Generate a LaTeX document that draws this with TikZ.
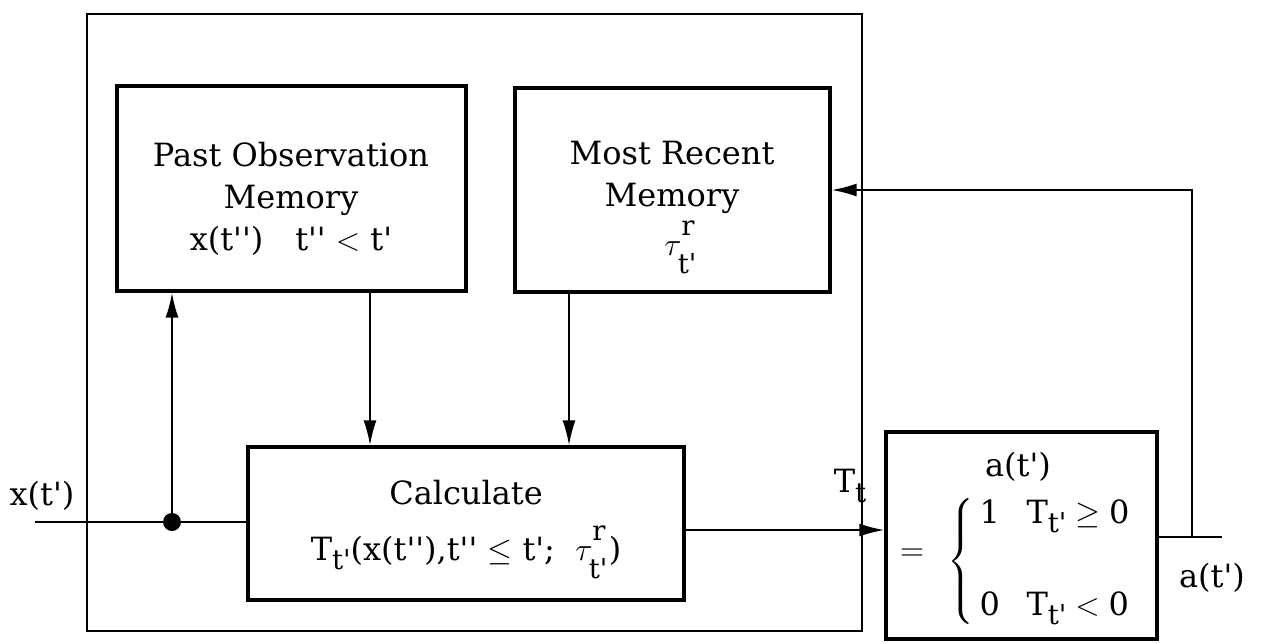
\documentclass[tikz,border=0pt]{standalone}
\usepackage{fix-cm}
\usepackage{amsmath}
\usepackage{fontspec}
\setmainfont{DejaVu Serif}
\usetikzlibrary{arrows.meta,fit}
\newcommand{\pr}{\textquotesingle}
\newcommand{\pp}{\textquotesingle\textquotesingle}
\newcommand{\lo}[1]{\raisebox{-0.55ex}{\fontsize{11}{11}\selectfont #1}}
\newcommand{\sm}[1]{\textrm{\fontsize{11}{11}\selectfont #1}}
\newcommand{\taur}{$\tau^{\raisebox{0.5ex}{\sm{r}}}_{\raisebox{-0.6ex}{\sm{t\pr}}}$}
\begin{document}
\begin{tikzpicture}[x=0.4pt,y=-0.4pt,
  every node/.style={font=\fontsize{12.8}{16.8}\selectfont},
  blockbox/.style={draw,line width=1.3pt,inner sep=0pt},
  outerbox/.style={draw,line width=0.8pt,inner sep=0pt},
  txt/.style={inner sep=0pt,align=center},
  conn/.style={line width=0.8pt},
  arr/.style={conn,-{Latex[length=10pt,width=5.2pt]}}]
\useasboundingbox (0,0) rectangle (1261,643);
% boxes
\node[outerbox,fit={(87,14) (862,631)}] (outer) {};
\node[blockbox,fit={(117,86) (466,291)}] (past) {};
\node[blockbox,fit={(515,88) (830,292)}] (recent) {};
\node[blockbox,fit={(248,447) (684,600)}] (calc) {};
\node[blockbox,fit={(886,432) (1157,639)}] (out) {};
% texts
\node[txt] (pasttxt) at (291,199) {Past Observation\\Memory\\x(t\pp)\quad t\pp\ $<$ t\pr};
\node[txt] (recenttxt) at (672,177) {Most Recent\\Memory};
\node[txt] (recenttau) at (681,247) {\taur};
\node[txt] (calctxt) at (466,493) {Calculate};
\node[txt] (calcform) at (466,552) {T\lo{t\pr}(x(t\pp),t\pp\ $\leq$ t\pr;\ \ \taur)};
\node[txt] (atop) at (1018,467) {a(t\pr)};
\node[txt] (eq) at (912,555) {$=$};
\node[txt] (cases) at (1040,561) {$\left\{\begin{array}{@{\,}l@{\;\;\;}l@{}}\textrm{1} & \textrm{T\lo{t\pr}} \geq \textrm{0}\\[20pt] \textrm{0} & \textrm{T\lo{t\pr}} < \textrm{0}\end{array}\right.$};
\node[txt] (xlab) at (42,496) {x(t\pr)};
\node[txt] (tlab) at (850,486) {T\lo{t}};
\node[txt] (alab) at (1212,578) {a(t\pr)};
% coordinates
\coordinate (xin) at (35,522);
\coordinate (dot) at (172,522);
\coordinate (c1) at (370,0);
\coordinate (c2) at (569,0);
\coordinate (ty) at (0,530);
\coordinate (oy) at (0,537);
\coordinate (aout) at (1222,537);
\coordinate (fb) at (1192,537);
\coordinate (fbtop) at (1192,190);
% connectors
\draw[conn] (xin) -- (dot) -- (calc.west |- dot);
\fill (dot) circle (9);
\draw[arr] (dot) -- (dot |- past.south);
\draw[arr] (c1 |- past.south) -- (c1 |- calc.north);
\draw[arr] (c2 |- recent.south) -- (c2 |- calc.north);
\draw[arr] (calc.east |- ty) -- (out.west |- ty);
\draw[conn] (out.east |- oy) -- (aout);
\draw[arr] (fb) -- (fbtop) -- (recent.east |- fbtop);
\end{tikzpicture}
\end{document}
